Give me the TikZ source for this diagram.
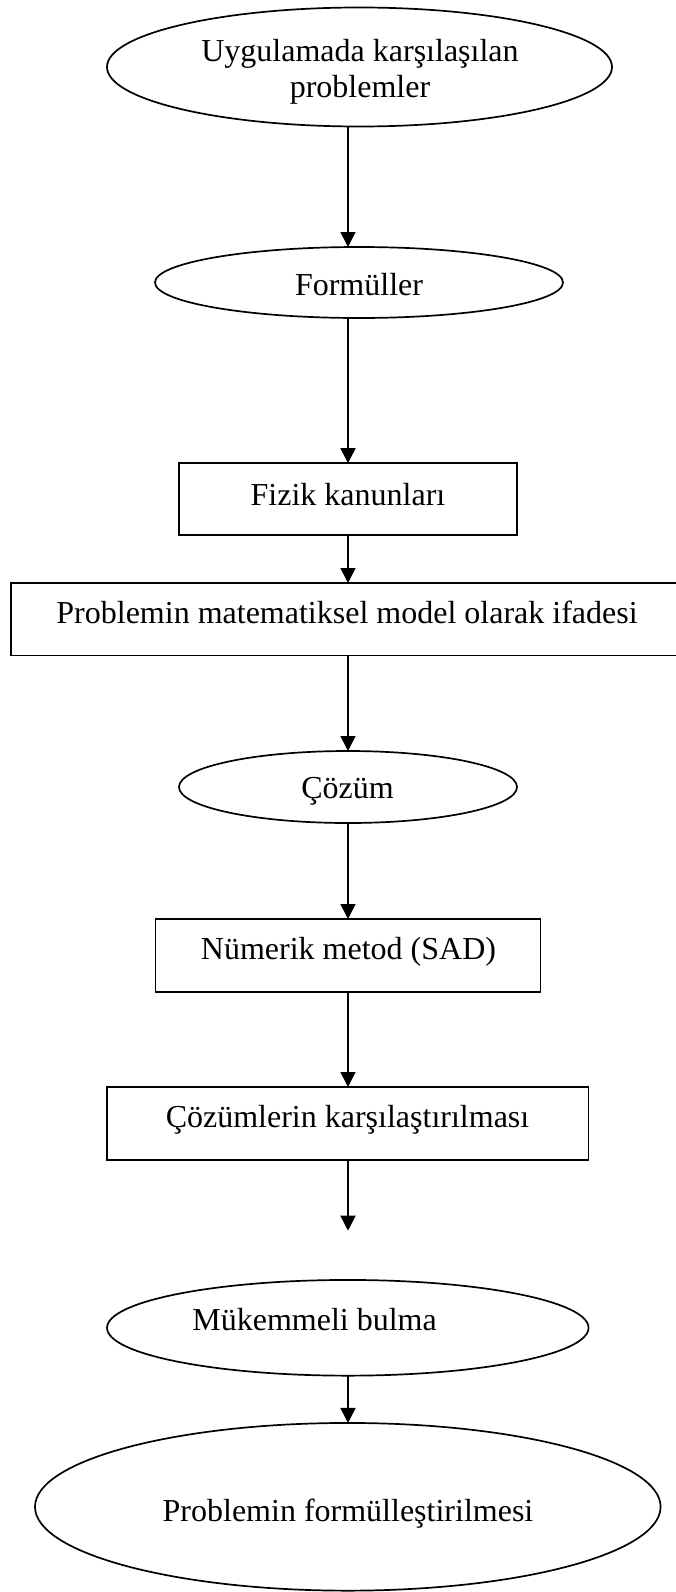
\documentclass[tikz,border=0pt]{standalone}
\usepackage{fontspec}
\setmainfont{Liberation Serif}
\usetikzlibrary{shapes.geometric,arrows.meta}
\begin{document}
\begin{tikzpicture}[x=1pt,y=-1pt,
  every node/.style={inner sep=0pt, outer sep=0pt},
  lbl/.style={font=\fontsize{32}{36}\selectfont, anchor=base},
  ellnode/.style={draw, ellipse, line width=1.7pt},
  boxnode/.style={draw, rectangle, line width=1.7pt},
  arr/.style={-{Triangle[width=15pt,length=15pt]}, line width=1.7pt}
]
\useasboundingbox (0,0) rectangle (676,1592);
\clip (0,0) rectangle (676,1592);
\coordinate (ax) at (348,0);

% shapes
\node[ellnode, minimum width=505pt, minimum height=119pt] (n1) at (359.5,67) {};
\node[ellnode, minimum width=408pt, minimum height=71pt] (n2) at (359,282.5) {};
\node[boxnode, minimum width=338pt, minimum height=72pt] (n3) at (348,499.2) {};
\node[boxnode, minimum width=679pt, minimum height=72.5pt] (n4) at (350.5,619.25) {};
\node[ellnode, minimum width=338pt, minimum height=72pt] (n5) at (348,787) {};
\node[boxnode, minimum width=385pt, minimum height=73pt] (n6) at (348,955.5) {};
\node[boxnode, minimum width=481.5pt, minimum height=73pt] (n7) at (347.8,1123.5) {};
\coordinate (free) at (348,1230.7);
\node[ellnode, minimum width=481.5pt, minimum height=95.7pt] (n8) at (347.8,1327.8) {};
\node[ellnode, minimum width=625.6pt, minimum height=167.7pt] (n9) at (347.8,1506.8) {};

% texts
\node[lbl] (t1a) at (360,62) {Uygulamada karşılaşılan};
\node[lbl] (t1b) at (360,98) {problemler};
\node[lbl] (t2) at (359,295) {Formüller};
\node[lbl] (t3) at (348,505) {Fizik kanunları};
\node[lbl] (t4) at (347,623) {Problemin matematiksel model olarak ifadesi};
\node[lbl] (t5) at (347.5,798) {Çözüm};
\node[lbl] (t6) at (348.5,959) {Nümerik metod (SAD)};
\node[lbl] (t7) at (347.5,1127) {Çözümlerin karşılaştırılması};
\node[lbl] (t8) at (314.6,1330) {Mükemmeli bulma};
\node[lbl] (t9) at (348,1521.7) {Problemin formülleştirilmesi};

% connectors
\draw[arr] (n1.south -| ax) -- (n2.north -| ax);
\draw[arr] (n2.south -| ax) -- (n3.north -| ax);
\draw[arr] (n3.south -| ax) -- (n4.north -| ax);
\draw[arr] (n4.south -| ax) -- (n5.north -| ax);
\draw[arr] (n5.south -| ax) -- (n6.north -| ax);
\draw[arr] (n6.south -| ax) -- (n7.north -| ax);
\draw[arr] (n7.south -| ax) -- (free);
\draw[arr] (n8.south -| ax) -- (n9.north -| ax);
\end{tikzpicture}
\end{document}
